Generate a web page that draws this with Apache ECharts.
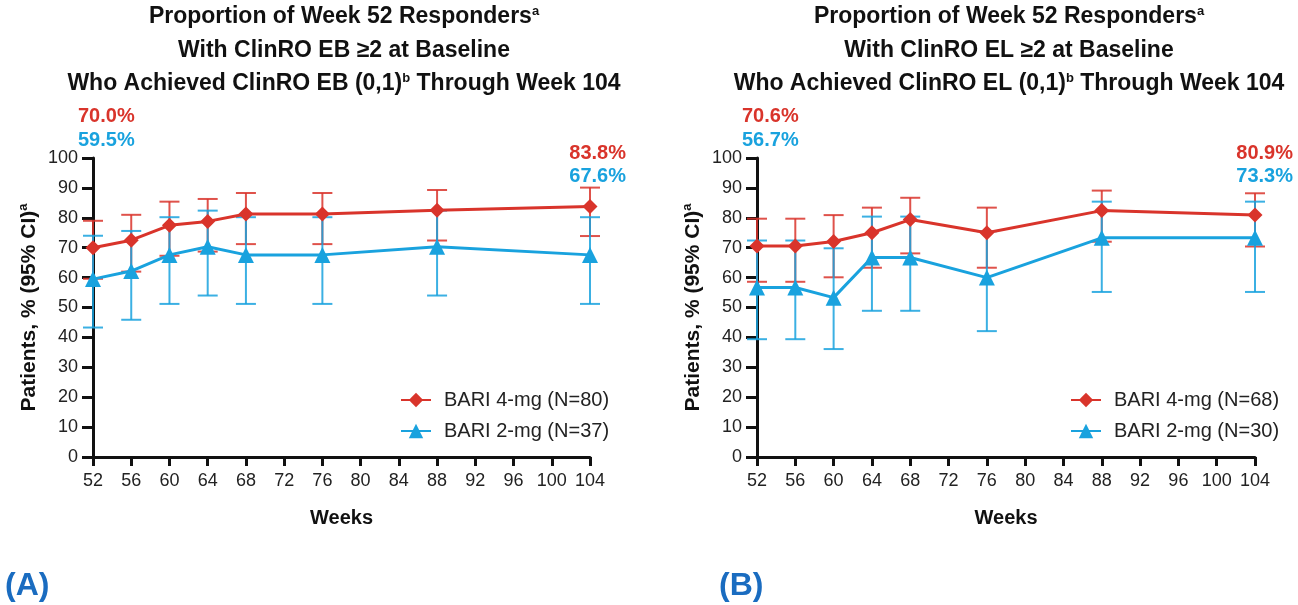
<!DOCTYPE html>
<html>
<head>
<meta charset="utf-8">
<script src="https://cdn.jsdelivr.net/npm/echarts@6/dist/echarts.min.js"></script>
<style>
  html, body { margin: 0; padding: 0; background: #ffffff; }
  #chart { width: 1298px; height: 605px; }
</style>
</head>
<body>
<div id="chart"></div>
<script>
// Visit weeks at which responders were assessed
const weeks = [52, 56, 60, 64, 68, 76, 88, 104];

// Panel A: ClinRO EB (0,1) — response rate (%) with 95% CI
const ebHigh = [70.0, 72.5, 77.5, 78.8, 81.3, 81.3, 82.5, 83.8];
const ebHighLo = [59.6, 62.0, 67.3, 68.7, 71.2, 71.2, 72.4, 73.9];
const ebHighHi = [79.0, 81.0, 85.4, 86.3, 88.3, 88.3, 89.3, 90.1];
const ebLow = [59.5, 62.2, 67.6, 70.3, 67.6, 67.6, 70.3, 67.6];
const ebLowLo = [43.3, 45.9, 51.2, 54.0, 51.2, 51.2, 54.0, 51.2];
const ebLowHi = [74.0, 75.6, 80.2, 82.4, 80.2, 80.2, 82.4, 80.2];

// Panel B: ClinRO EL (0,1) — response rate (%) with 95% CI
const elHigh = [70.6, 70.6, 72.1, 75.0, 79.4, 75.0, 82.4, 80.9];
const elHighLo = [58.6, 58.6, 60.1, 63.3, 68.1, 63.3, 72.0, 70.4];
const elHighHi = [79.7, 79.7, 80.9, 83.4, 86.7, 83.4, 89.1, 88.2];
const elLow = [56.7, 56.7, 53.3, 66.7, 66.7, 60.0, 73.3, 73.3];
const elLowLo = [39.4, 39.4, 36.1, 48.9, 48.9, 42.1, 55.2, 55.2];
const elLowHi = [72.4, 72.4, 69.8, 80.4, 80.4, 75.5, 85.4, 85.4];

// Series names (legend entries)
const namesA = ['BARI 4-mg (N=80)', 'BARI 2-mg (N=37)'];
const namesB = ['BARI 4-mg (N=68)', 'BARI 2-mg (N=30)'];

// Panel titles and tags
const titleA = ['Proportion of Week 52 Responders{sup|a}', 'With ClinRO EB ≥2 at Baseline', 'Who Achieved ClinRO EB (0,1){sup|b} Through Week 104'];
const titleB = ['Proportion of Week 52 Responders{sup|a}', 'With ClinRO EL ≥2 at Baseline', 'Who Achieved ClinRO EL (0,1){sup|b} Through Week 104'];
const panelTags = ['(A)', '(B)'];

const RED = '#d9342b';
const BLUE = '#19a2de';
const INK = '#111111';
const FONT = '"Liberation Sans", Arial, Helvetica, sans-serif';

const pct = v => v.toFixed(1) + '%';

function xAxis(gridIndex) {
  return {
    type: 'value', gridIndex, min: 52, max: 104, interval: 4,
    axisLine: { show: true, onZero: false, lineStyle: { color: INK, width: 3 } },
    axisTick: { show: true, length: 9, lineStyle: { color: INK, width: 3 } },
    axisLabel: { fontSize: 18, color: '#222', margin: 15, fontFamily: FONT },
    splitLine: { show: false },
    name: 'Weeks', nameLocation: 'middle', nameGap: 51,
    nameTextStyle: { fontSize: 20, fontWeight: 'bold', color: '#111', fontFamily: FONT }
  };
}

function yAxis(gridIndex) {
  return {
    type: 'value', gridIndex, min: 0, max: 100, interval: 10,
    axisLine: { show: true, lineStyle: { color: INK, width: 3 } },
    axisTick: { show: true, length: 11, lineStyle: { color: INK, width: 3 } },
    axisLabel: { fontSize: 18, color: '#222', margin: 15, fontFamily: FONT },
    splitLine: { show: false },
    name: 'Patients, % (95% CI){sup|a}', nameLocation: 'middle', nameGap: 52, nameRotate: 90,
    nameTextStyle: {
      fontSize: 21, fontWeight: 'bold', color: '#111', fontFamily: FONT,
      rich: { sup: { fontSize: 13, fontWeight: 'bold', color: '#111', fontFamily: FONT, verticalAlign: 'top', lineHeight: 24, padding: [0, 0, 9, 0] } }
    }
  };
}

function lineSeries(name, idx, values, color, symbol) {
  return {
    name, type: 'line', xAxisIndex: idx, yAxisIndex: idx,
    data: weeks.map((w, i) => [w, values[i]]),
    symbol, symbolSize: symbol === 'diamond' ? 15 : 16,
    lineStyle: { color, width: 3 },
    itemStyle: { color },
    z: 4, clip: false
  };
}

function errorSeries(idx, lo, hi, color) {
  return {
    type: 'custom', xAxisIndex: idx, yAxisIndex: idx, silent: true, z: 3,
    data: weeks.map((w, i) => [w, lo[i], hi[i]]),
    encode: { x: 0, y: [1, 2] },
    renderItem(params, api) {
      const x = api.value(0);
      const top = api.coord([x, api.value(2)]);
      const bot = api.coord([x, api.value(1)]);
      const hw = 10;
      const style = { stroke: color, lineWidth: 2, opacity: 0.85 };
      return {
        type: 'group',
        children: [
          { type: 'line', shape: { x1: top[0], y1: top[1], x2: bot[0], y2: bot[1] }, style },
          { type: 'line', shape: { x1: top[0] - hw, y1: top[1], x2: top[0] + hw, y2: top[1] }, style },
          { type: 'line', shape: { x1: bot[0] - hw, y1: bot[1], x2: bot[0] + hw, y2: bot[1] }, style }
        ]
      };
    }
  };
}

function titleText(lines, cx) {
  return lines.map((t, i) => ({
    type: 'text', x: cx, y: 17 + i * 33.5,
    style: {
      text: t, textAlign: 'center', textVerticalAlign: 'middle',
      font: 'bold 23px ' + FONT, fill: '#111',
      rich: { sup: { fontSize: 13, fontWeight: 'bold', fontFamily: FONT, fill: '#111', verticalAlign: 'top', padding: [0, 0, 11, 0] } }
    }
  }));
}

function valueText(text, x, y, color, align) {
  return {
    type: 'text', x, y,
    style: { text, textAlign: align, textVerticalAlign: 'middle', font: 'bold 20px ' + FONT, fill: color }
  };
}

const legendCommon = {
  orient: 'vertical', itemWidth: 30, itemHeight: 18, itemGap: 11,
  textStyle: { fontSize: 20, color: '#222', fontFamily: FONT, padding: [0, 0, 0, 8] }
};

const option = {
  animation: false,
  backgroundColor: '#ffffff',
  grid: [
    { left: 93, top: 158, width: 497, height: 299 },
    { left: 757, top: 158, width: 498, height: 299 }
  ],
  xAxis: [xAxis(0), xAxis(1)],
  yAxis: [yAxis(0), yAxis(1)],
  legend: [
    Object.assign({ data: namesA, left: 395, top: 385 }, legendCommon),
    Object.assign({ data: namesB, left: 1065, top: 385 }, legendCommon)
  ],
  series: [
    errorSeries(0, ebHighLo, ebHighHi, RED),
    errorSeries(0, ebLowLo, ebLowHi, BLUE),
    lineSeries(namesA[0], 0, ebHigh, RED, 'diamond'),
    lineSeries(namesA[1], 0, ebLow, BLUE, 'triangle'),
    errorSeries(1, elHighLo, elHighHi, RED),
    errorSeries(1, elLowLo, elLowHi, BLUE),
    lineSeries(namesB[0], 1, elHigh, RED, 'diamond'),
    lineSeries(namesB[1], 1, elLow, BLUE, 'triangle')
  ],
  graphic: [
    ...titleText(titleA, 344),
    ...titleText(titleB, 1009),
    valueText(pct(ebHigh[0]), 78, 116, RED, 'left'),
    valueText(pct(ebLow[0]), 78, 140, BLUE, 'left'),
    valueText(pct(ebHigh[ebHigh.length - 1]), 626, 153, RED, 'right'),
    valueText(pct(ebLow[ebLow.length - 1]), 626, 176, BLUE, 'right'),
    valueText(pct(elHigh[0]), 742, 116, RED, 'left'),
    valueText(pct(elLow[0]), 742, 140, BLUE, 'left'),
    valueText(pct(elHigh[elHigh.length - 1]), 1293, 153, RED, 'right'),
    valueText(pct(elLow[elLow.length - 1]), 1293, 176, BLUE, 'right'),
    { type: 'text', x: 5, y: 586, style: { text: panelTags[0], textVerticalAlign: 'middle', font: 'bold 32px ' + FONT, fill: '#1a6cc0' } },
    { type: 'text', x: 719, y: 586, style: { text: panelTags[1], textVerticalAlign: 'middle', font: 'bold 32px ' + FONT, fill: '#1a6cc0' } }
  ]
};

const chart = echarts.init(document.getElementById('chart'), null, { renderer: 'canvas' });
chart.setOption(option);
</script>
</body>
</html>
